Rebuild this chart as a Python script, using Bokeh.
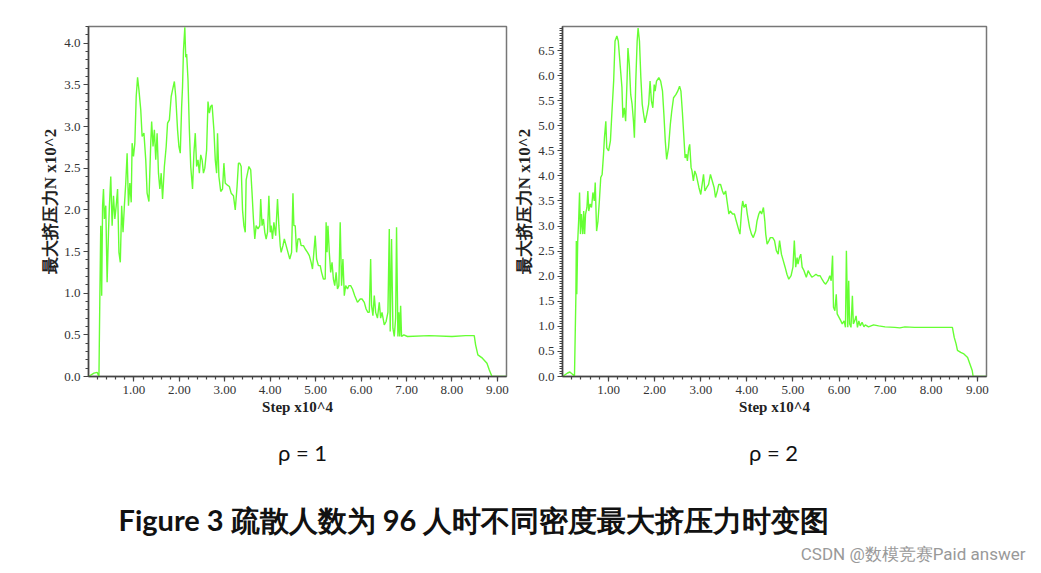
import numpy as np
from bokeh.plotting import figure
from bokeh.layouts import column, row
from bokeh.models import (Range1d, FixedTicker, SingleIntervalTicker,
                          NumeralTickFormatter, Label)
from bokeh.embed import file_html
from bokeh.resources import INLINE

# ---------------- data (Step x10^4, max pressure N x10^2) ----------------
rho1_step = [0.00, 0.12, 0.19, 0.23, 0.25, 0.27, 0.29, 0.31, 0.33, 0.35, 0.38, 0.41, 0.44, 0.46, 0.49,
             0.52, 0.55, 0.58, 0.61, 0.64, 0.67, 0.70, 0.73, 0.76, 0.79, 0.82, 0.85, 0.88, 0.91, 0.94,
             0.96, 0.99, 1.02, 1.05, 1.08, 1.11, 1.15, 1.18, 1.22, 1.26, 1.29, 1.33, 1.37, 1.39, 1.42,
             1.45, 1.48, 1.51, 1.54, 1.57, 1.60, 1.63, 1.67, 1.71, 1.74, 1.78, 1.82, 1.85, 1.89, 1.92,
             1.96, 1.99, 2.02, 2.05, 2.07, 2.09, 2.12, 2.14, 2.16, 2.19, 2.22, 2.25, 2.29, 2.32, 2.35,
             2.38, 2.41, 2.44, 2.47, 2.50, 2.53, 2.56, 2.60, 2.63, 2.66, 2.69, 2.72, 2.76, 2.79, 2.82,
             2.84, 2.87, 2.91, 2.95, 2.98, 3.01, 3.05, 3.10, 3.14, 3.19, 3.23, 3.27, 3.30, 3.33, 3.36,
             3.39, 3.42, 3.45, 3.47, 3.50, 3.53, 3.57, 3.60, 3.63, 3.66, 3.69, 3.73, 3.77, 3.79, 3.82,
             3.85, 3.88, 3.91, 3.94, 3.97, 4.00, 4.02, 4.05, 4.08, 4.12, 4.16, 4.19, 4.22, 4.24, 4.28,
             4.31, 4.35, 4.39, 4.43, 4.47, 4.50, 4.52, 4.55, 4.58, 4.61, 4.65, 4.68, 4.73, 4.77, 4.82,
             4.86, 4.90, 4.93, 4.96, 4.99, 5.02, 5.06, 5.10, 5.13, 5.17, 5.21, 5.23, 5.25, 5.27, 5.30,
             5.33, 5.36, 5.39, 5.42, 5.45, 5.48, 5.51, 5.54, 5.57, 5.60, 5.63, 5.66, 5.70, 5.73, 5.77,
             5.81, 5.86, 5.92, 5.98, 6.02, 6.07, 6.11, 6.15, 6.18, 6.21, 6.23, 6.26, 6.29, 6.32, 6.36,
             6.40, 6.43, 6.46, 6.51, 6.55, 6.59, 6.62, 6.64, 6.67, 6.70, 6.73, 6.76, 6.78, 6.81, 6.83,
             6.85, 6.87, 6.89, 6.94, 7.02, 7.50, 8.00, 8.30, 8.49, 8.52, 8.57, 8.67, 8.77, 8.82, 8.88,
             9.20]
rho1_force = [0.00, 0.04, 0.05, 0.00, 0.97, 1.81, 0.97, 2.05, 2.25, 1.89, 2.05, 1.13, 1.73, 2.05, 2.40,
              1.81, 2.17, 1.89, 2.05, 2.25, 1.49, 1.37, 2.05, 1.73, 2.05, 2.32, 2.68, 2.05, 2.32, 2.09,
              2.80, 2.64, 2.80, 3.36, 3.59, 3.44, 3.20, 2.88, 2.92, 2.60, 2.20, 2.10, 2.80, 3.06, 2.76,
              2.96, 2.60, 2.92, 2.44, 2.25, 2.44, 2.13, 2.52, 2.76, 3.04, 3.08, 3.36, 3.44, 3.54, 3.36,
              2.96, 2.76, 2.68, 3.24, 3.48, 3.91, 4.19, 3.83, 3.87, 3.56, 2.96, 2.52, 2.25, 2.68, 2.92,
              2.52, 2.60, 2.44, 2.66, 2.60, 2.44, 2.50, 2.72, 3.30, 3.16, 3.24, 3.26, 2.96, 2.60, 2.44,
              2.92, 2.40, 2.22, 2.25, 2.56, 2.32, 2.30, 2.28, 2.20, 2.17, 2.00, 2.28, 2.56, 2.56, 2.52,
              2.00, 1.81, 1.73, 2.36, 2.44, 2.52, 2.48, 2.20, 1.89, 1.65, 1.81, 1.77, 1.81, 2.13, 1.81,
              1.89, 1.73, 1.65, 1.73, 2.17, 1.73, 1.81, 1.65, 1.85, 1.69, 2.13, 1.81, 1.57, 1.49, 1.57,
              1.65, 1.57, 1.49, 1.41, 1.49, 2.20, 1.81, 1.81, 1.49, 1.65, 1.65, 1.57, 1.57, 1.53, 1.49,
              1.45, 1.37, 1.29, 1.49, 1.69, 1.41, 1.33, 1.33, 1.25, 1.17, 1.17, 1.85, 1.49, 1.81, 1.49,
              1.25, 1.37, 1.17, 1.09, 1.25, 1.05, 1.09, 1.85, 1.09, 1.41, 0.97, 1.09, 1.05, 1.09, 1.09,
              1.05, 0.97, 0.89, 0.93, 0.93, 0.89, 0.81, 0.77, 0.77, 1.41, 0.85, 0.73, 0.97, 0.77, 0.70,
              0.89, 0.70, 0.77, 0.62, 0.66, 0.77, 1.77, 0.54, 1.65, 0.58, 0.48, 0.70, 1.79, 0.48, 0.77,
              0.48, 0.85, 0.48, 0.50, 0.48, 0.49, 0.48, 0.49, 0.49, 0.38, 0.26, 0.22, 0.16, 0.08, 0.00,
              0.00]

rho2_step = [0.00, 0.11, 0.16, 0.21, 0.26, 0.29, 0.30, 0.31, 0.33, 0.35, 0.37, 0.39, 0.41, 0.44, 0.46,
             0.48, 0.50, 0.53, 0.55, 0.57, 0.60, 0.63, 0.66, 0.69, 0.71, 0.74, 0.77, 0.80, 0.83, 0.86,
             0.89, 0.91, 0.94, 0.96, 1.00, 1.04, 1.07, 1.11, 1.14, 1.18, 1.21, 1.25, 1.29, 1.31, 1.34,
             1.37, 1.40, 1.42, 1.45, 1.48, 1.51, 1.54, 1.56, 1.59, 1.62, 1.64, 1.67, 1.70, 1.73, 1.76,
             1.79, 1.83, 1.87, 1.90, 1.93, 1.96, 1.99, 2.01, 2.04, 2.09, 2.13, 2.17, 2.20, 2.23, 2.26,
             2.30, 2.34, 2.37, 2.41, 2.46, 2.50, 2.54, 2.57, 2.60, 2.63, 2.66, 2.69, 2.71, 2.74, 2.76,
             2.79, 2.81, 2.84, 2.87, 2.90, 2.93, 2.96, 3.00, 3.04, 3.06, 3.09, 3.13, 3.17, 3.21, 3.25,
             3.29, 3.32, 3.36, 3.39, 3.43, 3.47, 3.50, 3.54, 3.57, 3.61, 3.64, 3.69, 3.73, 3.77, 3.81,
             3.85, 3.89, 3.91, 3.94, 3.98, 4.01, 4.06, 4.10, 4.14, 4.19, 4.22, 4.26, 4.29, 4.32, 4.36,
             4.39, 4.41, 4.44, 4.48, 4.51, 4.56, 4.60, 4.64, 4.68, 4.71, 4.75, 4.79, 4.83, 4.87, 4.91,
             4.96, 5.00, 5.03, 5.06, 5.09, 5.11, 5.14, 5.17, 5.20, 5.24, 5.29, 5.33, 5.37, 5.41, 5.46,
             5.50, 5.54, 5.59, 5.63, 5.67, 5.71, 5.76, 5.80, 5.83, 5.86, 5.88, 5.91, 5.94, 5.96, 6.00,
             6.04, 6.07, 6.11, 6.14, 6.16, 6.19, 6.21, 6.23, 6.26, 6.29, 6.31, 6.34, 6.37, 6.40, 6.43,
             6.46, 6.50, 6.54, 6.57, 6.64, 6.75, 6.86, 7.00, 7.21, 7.32, 7.43, 7.64, 7.93, 8.29, 8.46,
             8.50, 8.54, 8.57, 8.64, 8.71, 8.79, 8.84, 8.89, 8.91, 9.20]
rho2_force = [0.00, 0.07, 0.09, 0.05, 0.01, 1.58, 2.70, 1.64, 2.70, 3.10, 3.67, 2.84, 3.24, 2.84, 3.30,
              2.84, 3.24, 3.37, 3.70, 3.30, 3.44, 3.37, 3.67, 3.50, 3.87, 2.90, 3.10, 3.50, 3.97, 4.03,
              4.43, 4.76, 5.09, 4.56, 4.50, 4.70, 5.23, 5.89, 6.69, 6.79, 6.69, 6.22, 5.76, 5.16, 5.36,
              5.09, 5.89, 6.55, 6.22, 5.62, 5.43, 5.09, 4.76, 5.89, 6.69, 6.95, 6.69, 5.96, 5.43, 5.23,
              5.06, 5.23, 5.43, 5.89, 5.49, 5.36, 5.82, 5.69, 5.89, 5.96, 5.89, 5.69, 5.23, 4.70, 4.33,
              4.56, 5.03, 5.29, 5.56, 5.62, 5.69, 5.79, 5.69, 5.29, 4.83, 4.36, 4.43, 4.30, 4.56, 4.63,
              4.17, 4.10, 3.90, 4.10, 4.03, 3.90, 3.77, 3.63, 3.90, 4.03, 3.70, 3.77, 3.83, 4.03, 3.90,
              3.77, 3.57, 3.70, 3.83, 3.83, 3.70, 3.63, 3.70, 3.50, 3.24, 3.30, 3.24, 3.24, 3.10, 2.97,
              2.84, 3.37, 3.50, 3.37, 3.44, 3.24, 2.97, 2.84, 2.77, 2.90, 3.10, 3.24, 3.30, 3.24, 3.37,
              3.10, 2.84, 2.64, 2.71, 2.77, 2.77, 2.71, 2.51, 2.44, 2.71, 2.44, 2.31, 2.18, 2.04, 1.94,
              2.01, 2.18, 2.71, 2.18, 2.37, 2.24, 2.37, 2.44, 2.18, 2.11, 1.98, 2.11, 2.04, 1.98, 2.01,
              2.04, 2.01, 2.01, 1.94, 1.88, 1.84, 1.91, 2.01, 1.91, 2.41, 1.38, 1.31, 1.64, 1.25, 1.18,
              1.11, 1.05, 1.11, 0.98, 2.51, 0.98, 1.91, 1.05, 0.98, 1.61, 1.05, 1.11, 1.21, 0.98, 1.11,
              1.01, 1.08, 0.99, 1.03, 0.99, 1.03, 1.01, 0.99, 0.98, 0.97, 0.99, 0.98, 0.98, 0.98, 0.98,
              0.78, 0.65, 0.52, 0.48, 0.45, 0.38, 0.25, 0.12, 0.00, 0.00]

x_major = [1, 2, 3, 4, 5, 6, 7, 8, 9]
x_label = "Step x10^4"
y_label = "最大挤压力N x10^2"
panel_titles = ["ρ = 1", "ρ = 2"]
caption = "Figure 3 疏散人数为 96 人时不同密度最大挤压力时变图"
watermark = "CSDN @数模竞赛Paid answer"

LINE = "#66ff33"
AX = "#444444"


def make_panel(xs, ys, ymax, minor_y, width, bl, br, bt, bb):
    p = figure(width=width, height=430, output_backend="svg", toolbar_location=None,
               x_range=Range1d(0, 9.2), y_range=Range1d(0, ymax),
               min_border_left=bl, min_border_right=br, min_border_top=bt,
               min_border_bottom=bb)
    p.line(xs, ys, line_color=LINE, line_width=1.4)
    p.xgrid.visible = False
    p.ygrid.visible = False
    p.outline_line_color = "#777777"
    p.outline_line_width = 1.5
    p.background_fill_color = "white"
    p.border_fill_color = "white"

    xminor = [round(v, 2) for v in np.arange(0.2, 9.2, 0.2)]
    p.xaxis.ticker = FixedTicker(ticks=x_major, minor_ticks=xminor)
    p.xaxis.formatter = NumeralTickFormatter(format="0.00")
    p.yaxis.ticker = SingleIntervalTicker(interval=0.5, num_minor_ticks=minor_y)
    p.yaxis.formatter = NumeralTickFormatter(format="0.0")

    for ax in (p.xaxis[0], p.yaxis[0]):
        ax.axis_line_color = AX
        ax.axis_line_width = 1.5
        ax.major_tick_line_color = AX
        ax.minor_tick_line_color = AX
        ax.major_tick_out = 5
        ax.major_tick_in = 0
        ax.minor_tick_out = 3
        ax.minor_tick_in = 0
        ax.major_tick_line_width = 1.2
        ax.minor_tick_line_width = 1.2
        ax.major_label_text_font = "Liberation Serif"
        ax.major_label_text_font_size = "13px"
        ax.major_label_text_color = "#333333"
        ax.axis_label_text_font = "Liberation Serif"
        ax.axis_label_text_font_style = "bold"
        ax.axis_label_text_color = "#222222"
    p.xaxis.axis_label = x_label
    p.xaxis.axis_label_text_font_size = "15px"
    p.xaxis.major_label_standoff = 4
    p.xaxis.axis_label_standoff = 2
    p.yaxis.axis_label = y_label
    p.yaxis.axis_label_text_font_size = "17px"
    p.yaxis.major_label_standoff = 3
    p.yaxis.axis_label_standoff = 1
    return p


p1 = make_panel(rho1_step, rho1_force, 4.2, 5, 512, 88, 6, 26, 52)
p2 = make_panel(rho2_step, rho2_force, 6.98, 10, 529, 45, 55, 25, 54)

# caption area
c = figure(width=1041, height=143, output_backend="svg", toolbar_location=None,
           x_range=Range1d(0, 1041), y_range=Range1d(573, 430),
           min_border=0)
c.axis.visible = False
c.grid.visible = False
c.outline_line_color = None
c.background_fill_color = "white"
c.border_fill_color = "white"

for xc, t in zip([302, 773], panel_titles):
    c.add_layout(Label(x=xc, y=452, text=t, text_font="Lato", text_font_size="22px",
                       text_color="#111111", text_align="center", text_baseline="middle"))
c.add_layout(Label(x=118, y=519, text=caption, text_font="Lato", text_font_size="29px",
                   text_font_style="bold", text_color="#111111", text_align="left",
                   text_baseline="middle"))
c.add_layout(Label(x=1025, y=553, text=watermark, text_font="Roboto", text_font_size="17px",
                   text_color="#999999", text_align="right", text_baseline="middle"))

layout = column(row(p1, p2), c)

open("out.html", "w").write(file_html(layout, INLINE))
